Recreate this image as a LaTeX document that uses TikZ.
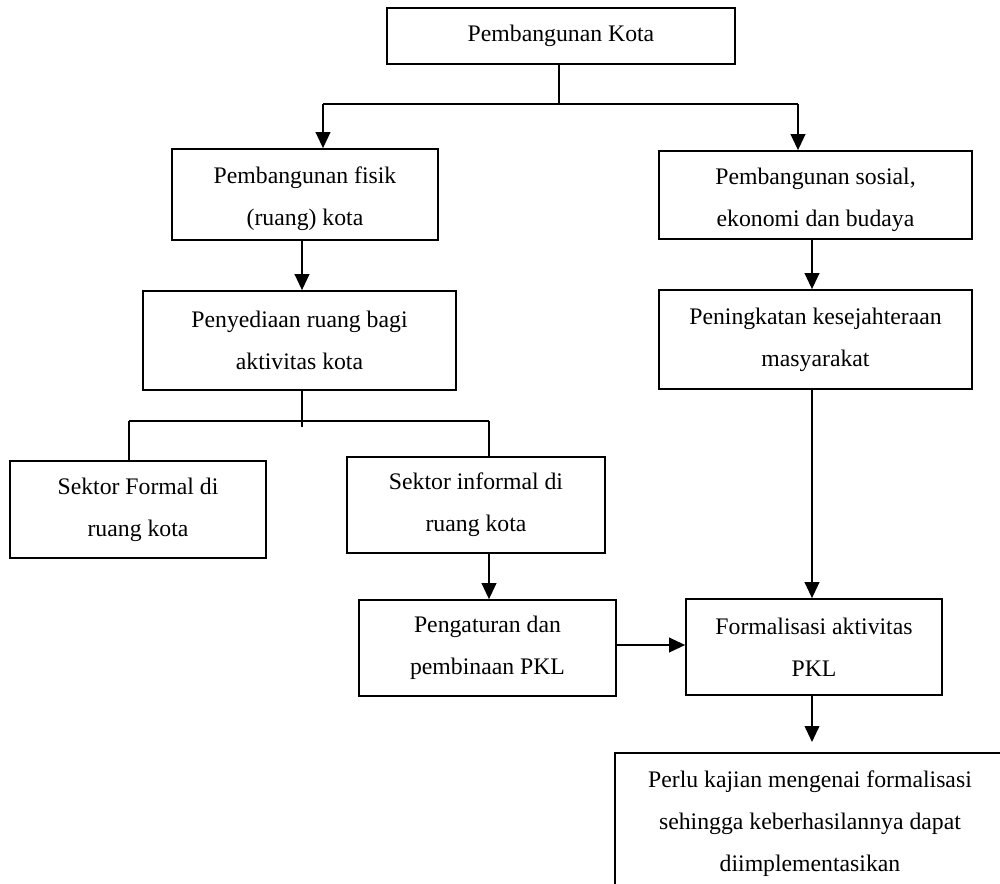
\documentclass[tikz,border=0pt]{standalone}
\usepackage{fontspec}
\setmainfont{Liberation Serif}
\usetikzlibrary{arrows.meta}
\newcommand\pxu{0.75pt}
\tikzset{
  box/.style={draw, line width=1.3pt, align=center, inner sep=0pt,
    font=\fontsize{17.8}{31.5}\selectfont},
  sz/.style 2 args={minimum width=#1*\pxu, minimum height=#2*\pxu},
  lower/.style={text height=50.5pt},
  conn/.style={line width=1.3pt},
  arr/.style={conn, -{Triangle[length=12pt,width=11pt]}},
}
\begin{document}
\begin{tikzpicture}[x=0.75pt,y=-0.75pt]
\useasboundingbox (0,0) rectangle (1000,883);
% boxes
\node[box, sz={348}{56}] (a) at (561,36) {Pembangunan Kota};
\node[box, lower, sz={266}{91}] (b) at (305,194.5) {Pembangunan fisik\\(ruang) kota};
\node[box, lower, sz={313}{88}] (c) at (815.5,195) {Pembangunan sosial,\\ekonomi dan budaya};
\node[box, sz={313}{99}] (d) at (299.5,340.5) {Penyediaan ruang bagi\\aktivitas kota};
\node[box, sz={313}{99}] (e) at (815.5,339.5) {Peningkatan kesejahteraan\\masyarakat};
\node[box, sz={256}{97}] (sf) at (138,509.5) {Sektor Formal di\\ruang kota};
\node[box, sz={258}{96}] (si) at (476,505) {Sektor informal di\\ruang kota};
\node[box, sz={257}{96}] (pg) at (487.5,648) {Pengaturan dan\\pembinaan PKL};
\node[box, sz={256}{96}] (f) at (814,647) {Formalisasi aktivitas\\PKL};
\node[box, draw=none] (g) at (810,824) {Perlu kajian mengenai formalisasi\\sehingga keberhasilannya dapat\\diimplementasikan};
% open frame of the last box
\coordinate (gbl) at (615,885);
\coordinate (gtl) at (615,753);
\coordinate (gtr) at (1002,753);
\draw[conn] (gbl) -- (gtl) -- (gtr);
% connectors
\coordinate (ja) at (559,104);
\coordinate (jl) at (323,104);
\coordinate (jr) at (798,104);
\draw[conn] (a.south -| ja) -- (ja);
\draw[conn] (jl) -- (jr);
\draw[arr] (jl) -- (jl |- b.north);
\draw[arr] (jr) -- (jr |- c.north);
\coordinate (xb) at (302,0);
\draw[arr] (b.south -| xb) -- (d.north -| xb);
\coordinate (jd) at (302,427);
\coordinate (jdl) at (129,421);
\coordinate (jdr) at (489,421);
\draw[conn] (d.south -| jd) -- (jd);
\draw[conn] (jdl) -- (jdr);
\draw[conn] (jdl) -- (jdl |- sf.north);
\draw[conn] (jdr) -- (jdr |- si.north);
\draw[arr] (si.south -| jdr) -- (pg.north -| jdr);
\coordinate (xr) at (812,0);
\draw[arr] (c.south -| xr) -- (e.north -| xr);
\draw[arr] (e.south -| xr) -- (f.north -| xr);
\coordinate (yh) at (0,645);
\draw[arr] (pg.east |- yh) -- (f.west |- yh);
\coordinate (garr) at (812,742);
\draw[arr] (f.south -| xr) -- (garr);
\end{tikzpicture}
\end{document}
